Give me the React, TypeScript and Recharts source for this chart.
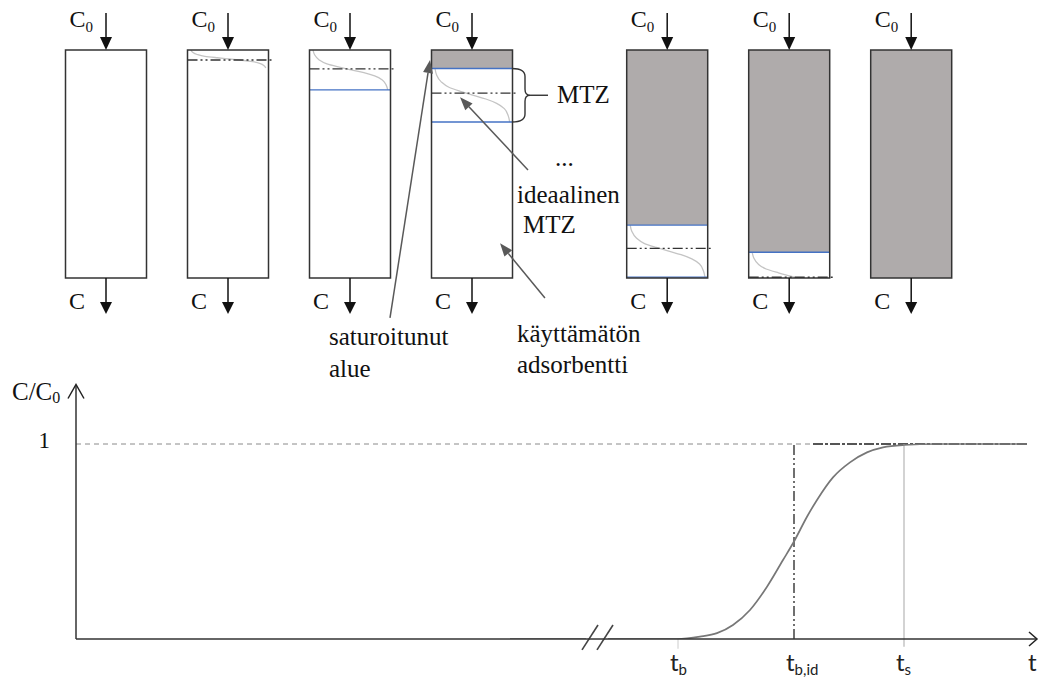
import React from 'react';
import { ComposedChart, Bar, Line, XAxis, YAxis, ReferenceLine, ReferenceDot, Curve } from 'recharts';

const SERIF = '"Liberation Serif", "Times New Roman", serif';
const SANS = 'Lato, "Liberation Sans", sans-serif';
const INK = '#111';
const ARROW = '#595959';

// bed snapshots: place on the time line, fractions of bed length measured from the inlet
const stages = [1, 2, 3, 4, 5.6, 6.6, 7.6];
const saturated = [0, 0, 0, 0.081, 0.768, 0.887, 1];
const mtzZone = [0, 0.079, 0.175, 0.235, 0.228, 0.113, 0];
const unused = [1, 0.921, 0.825, 0.684, 0.004, 0, 0];
const idealFront = [0, 0.044, 0.083, 0.189, 0.87, 0.997, 0];
const profileSpan = [0, 0.079, 0.175, 0.235, 0.228, 0.21, 0];

// shape of the concentration profile inside the MTZ
const profileDepth = [0, 0.12, 0.25, 0.35, 0.43, 0.5, 0.57, 0.65, 0.75, 0.88, 1];
const profileLevel = [0.02, 0.04, 0.1, 0.2, 0.36, 0.52, 0.68, 0.82, 0.92, 0.97, 0.99];

// breakthrough curve C/C0 against t (null = axis break)
const curveTime = [43.4, 51.0, 52.0, 53.2, 60.1, 62.4, 64.1, 65.7, 67.4, 69.1, 70.7, 71.8, 73.1, 74.1, 75.7, 77.4, 79.1, 80.7, 82.8, 86.0, 95.1];
const curveConc = [0, 0, null, 0, 0, 0.012, 0.03, 0.072, 0.149, 0.268, 0.405, 0.5, 0.627, 0.713, 0.829, 0.906, 0.957, 0.983, 0.995, 1, 1];

const timeTicks = [60.2, 71.8, 82.8, 96];
const timeSubs = ['b', 'b,id', 's', ''];

const bedData = stages.map((s, i) => ({
  stage: s,
  saturated: saturated[i],
  mtz: mtzZone[i],
  unused: unused[i],
  bed: 1,
  ideal: idealFront[i],
  span: profileSpan[i],
}));

const curveData = curveTime.map((t, i) => ({ t, conc: curveConc[i] }));

function MtzShape(props: any) {
  const { x, width, payload, index } = props;
  const top = Math.min(props.y, props.y + props.height);
  const h = Math.abs(props.height);
  if (!payload || !(h > 0.5)) return <g />;
  const k = h / payload.mtz;
  const colTop = top - payload.saturated * k;
  const idealY = colTop + payload.ideal * k;
  const pts = profileDepth.map((d, i) => ({
    x: x + 2 + profileLevel[i] * (width - 4),
    y: top + d * payload.span * k,
  }));
  const clipId = `mtz-clip-${index}`;
  return (
    <g>
      <defs>
        <clipPath id={clipId}>
          <rect x={x} y={colTop} width={width} height={k} />
        </clipPath>
      </defs>
      <g clipPath={`url(#${clipId})`}>
        <Curve type="monotoneY" points={pts} stroke="#c4c4c4" strokeWidth={1.3} fill="none" />
      </g>
      {payload.saturated > 0 && (
        <line x1={x} y1={top} x2={x + width} y2={top} stroke="#4472c4" strokeWidth={1.4} />
      )}
      {payload.unused > 0 && payload.mtz >= 0.1 && (
        <line x1={x} y1={top + h} x2={x + width} y2={top + h} stroke="#4472c4" strokeWidth={1.4} />
      )}
      <line x1={x} y1={idealY} x2={x + width + 3} y2={idealY} stroke="#333" strokeWidth={1.4}
        strokeDasharray="10 3 2 3 2 3" />
    </g>
  );
}

function FrameShape(props: any) {
  const { x, width } = props;
  const top = Math.min(props.y, props.y + props.height);
  const h = Math.abs(props.height);
  const cx = x + width / 2;
  const bottom = top + h;
  return (
    <g>
      <rect x={x} y={top} width={width} height={h} fill="none" stroke="#333" strokeWidth={1.5} />
      <line x1={cx} y1={top - 37} x2={cx} y2={top - 11} stroke={INK} strokeWidth={1.5} />
      <polygon points={`${cx - 6},${top - 13} ${cx + 6},${top - 13} ${cx},${top}`} fill={INK} />
      <text x={cx - 36.5} y={top - 23} style={{ fontFamily: SERIF, fontSize: 24 }} fill={INK}>
        C<tspan style={{ fontSize: 15 }} dy={5}>0</tspan>
      </text>
      <line x1={cx} y1={bottom} x2={cx} y2={bottom + 26} stroke={INK} strokeWidth={1.5} />
      <polygon points={`${cx - 6},${bottom + 24} ${cx + 6},${bottom + 24} ${cx},${bottom + 36}`} fill={INK} />
      <text x={cx - 37} y={bottom + 31} style={{ fontFamily: SERIF, fontSize: 24 }} fill={INK}>C</text>
    </g>
  );
}

function ArrowShape(props: any) {
  const { x1, y1, x2, y2 } = props;
  const len = Math.hypot(x2 - x1, y2 - y1) || 1;
  const ux = (x2 - x1) / len;
  const uy = (y2 - y1) / len;
  const bx = x2 - ux * 13;
  const by = y2 - uy * 13;
  return (
    <g>
      <line x1={x1} y1={y1} x2={bx} y2={by} stroke={ARROW} strokeWidth={1.5} />
      <polygon
        points={`${x2},${y2} ${bx - uy * 5},${by + ux * 5} ${bx + uy * 5},${by - ux * 5}`}
        fill={ARROW}
      />
    </g>
  );
}

function BraceShape(props: any) {
  const x = props.x1;
  const t = Math.min(props.y1, props.y2);
  const b = Math.max(props.y1, props.y2);
  const m = (t + b) / 2;
  const v = x + 13;
  const d = `M${x},${t} Q${v},${t} ${v},${t + 8} L${v},${m - 6} Q${v},${m} ${x + 18},${m} ` +
    `Q${v},${m} ${v},${m + 6} L${v},${b - 8} Q${v},${b} ${x},${b}`;
  return (
    <g>
      <path d={d} fill="none" stroke="#333" strokeWidth={1.4} />
      <line x1={x + 18} y1={m} x2={x + 36} y2={m} stroke="#333" strokeWidth={1.4} />
    </g>
  );
}

function note(key: string, x: number, y: number, label: string) {
  return (
    <ReferenceDot
      key={key}
      x={x}
      y={y}
      ifOverflow="visible"
      shape={(p: any) => (
        <g>
          <text x={p.cx} y={p.cy} style={{ fontFamily: SERIF, fontSize: 25 }} fill={INK}>{label}</text>
        </g>
      )}
    />
  );
}

function TimeTick(props: any) {
  const { x, y, payload } = props;
  const i = timeTicks.indexOf(payload.value);
  return (
    <g>
      <text x={x - 8} y={y + 24} style={{ fontFamily: SANS, fontSize: 24 }} fill="#222">
        t<tspan style={{ fontSize: 15 }} dy={4}>{timeSubs[i]}</tspan>
      </text>
    </g>
  );
}

function ValueTick(props: any) {
  const { x, y, payload } = props;
  return (
    <g>
      <text x={x - 18} y={y + 4} textAnchor="end" style={{ fontFamily: SERIF, fontSize: 23 }} fill={INK}>
        {payload.value}
      </text>
    </g>
  );
}

export default function App() {
  return (
    <div style={{ position: 'absolute', left: 0, top: 0, width: 1039, height: 679, background: '#fff' }}>
      <div style={{ position: 'absolute', left: 0, top: 0 }}>
        <ComposedChart
          width={1039}
          height={390}
          data={bedData}
          margin={{ top: 50, right: 18.5, bottom: 112, left: 44.5 }}
          barGap={-81}
          barSize={81}
        >
          <XAxis type="number" dataKey="stage" domain={[0.5, 8.5]} hide />
          <YAxis type="number" domain={[0, 1]} reversed hide />
          <Bar dataKey="saturated" stackId="bed" fill="#afabab" isAnimationActive={false} />
          <Bar dataKey="mtz" stackId="bed" shape={MtzShape} isAnimationActive={false} />
          <Bar dataKey="unused" stackId="bed" fill="none" isAnimationActive={false} />
          <Bar dataKey="bed" stackId="frame" shape={FrameShape} isAnimationActive={false} />

          <ReferenceLine
            segment={[{ x: 4.332, y: saturated[3] }, { x: 4.332, y: saturated[3] + mtzZone[3] }]}
            ifOverflow="visible"
            shape={BraceShape}
          />
          <ReferenceLine segment={[{ x: 3.332, y: 1.175 }, { x: 3.66, y: 0.044 }]} ifOverflow="visible" shape={ArrowShape} />
          <ReferenceLine segment={[{ x: 4.463, y: 0.526 }, { x: 3.906, y: 0.2075 }]} ifOverflow="visible" shape={ArrowShape} />
          <ReferenceLine segment={[{ x: 4.602, y: 1.088 }, { x: 4.234, y: 0.848 }]} ifOverflow="visible" shape={ArrowShape} />

          {note('mtz', 4.701, 0.232, 'MTZ')}
          {note('dots', 4.684, 0.509, '...')}
          {note('ideal1', 4.373, 0.671, 'ideaalinen')}
          {note('ideal2', 4.422, 0.803, 'MTZ')}
          {note('sat1', 2.832, 1.294, 'saturoitunut')}
          {note('sat2', 2.832, 1.434, 'alue')}
          {note('unused1', 4.373, 1.281, 'käyttämätön')}
          {note('unused2', 4.373, 1.417, 'adsorbentti')}
        </ComposedChart>
      </div>

      <div style={{ position: 'absolute', left: 0, top: 370 }}>
        <ComposedChart width={1039} height={309} data={curveData} margin={{ top: 15.5, right: 3, bottom: 0, left: 0 }}>
          <XAxis
            type="number"
            dataKey="t"
            domain={[0, 96]}
            ticks={timeTicks}
            interval={0}
            tick={<TimeTick />}
            tickLine={false}
            axisLine={{ stroke: '#333', strokeWidth: 1.5 }}
            height={40}
            allowDataOverflow
          />
          <YAxis
            type="number"
            domain={[0, 1.3]}
            ticks={[1]}
            tick={<ValueTick />}
            tickLine={false}
            axisLine={{ stroke: '#333', strokeWidth: 1.5 }}
            width={76}
            allowDataOverflow
          />

          <ReferenceLine segment={[{ x: 0, y: 1 }, { x: 73.7, y: 1 }]} ifOverflow="visible"
            stroke="#8a8a8a" strokeWidth={1} strokeDasharray="5 4" />
          <ReferenceLine segment={[{ x: 73.7, y: 1 }, { x: 95.1, y: 1 }]} ifOverflow="visible"
            stroke="#555" strokeWidth={2} strokeDasharray="10 2 3 2" />
          <ReferenceLine segment={[{ x: timeTicks[1], y: 0 }, { x: timeTicks[1], y: 1 }]} ifOverflow="visible"
            stroke="#333" strokeWidth={1.4} strokeDasharray="10 3 2 3 2 3" />
          <ReferenceLine segment={[{ x: timeTicks[2], y: -0.04 }, { x: timeTicks[2], y: 1 }]} ifOverflow="visible"
            stroke="#c4c4c4" strokeWidth={1.5} />
          <ReferenceLine segment={[{ x: timeTicks[0], y: -0.05 }, { x: timeTicks[0], y: 0 }]} ifOverflow="visible"
            stroke="#cccccc" strokeWidth={1} />

          <Line
            type="monotone"
            dataKey="conc"
            stroke="#777"
            strokeWidth={1.7}
            dot={false}
            activeDot={false}
            isAnimationActive={false}
          />

          <ReferenceLine segment={[{ x: 50.6, y: -0.056 }, { x: 52.2, y: 0.072 }]} ifOverflow="visible"
            stroke="#444" strokeWidth={1.6} />
          <ReferenceLine segment={[{ x: 52.1, y: -0.056 }, { x: 53.7, y: 0.072 }]} ifOverflow="visible"
            stroke="#444" strokeWidth={1.6} />

          <ReferenceDot
            x={0}
            y={1.3}
            ifOverflow="visible"
            shape={(p: any) => (
              <g>
                <path d={`M${p.cx - 8},${p.cy + 13} L${p.cx},${p.cy - 1} L${p.cx + 8},${p.cy + 13}`}
                  fill="none" stroke="#222" strokeWidth={1.5} />
                <text x={p.cx - 64} y={p.cy + 14.5} style={{ fontFamily: SERIF, fontSize: 25 }} fill={INK}>
                  C/C<tspan style={{ fontSize: 16 }} dy={3}>0</tspan>
                </text>
              </g>
            )}
          />
          <ReferenceDot
            x={96}
            y={0}
            ifOverflow="visible"
            shape={(p: any) => (
              <path d={`M${p.cx - 7},${p.cy - 7} L${p.cx + 1},${p.cy} L${p.cx - 7},${p.cy + 7}`}
                fill="none" stroke="#222" strokeWidth={1.5} />
            )}
          />
        </ComposedChart>
      </div>
    </div>
  );
}
